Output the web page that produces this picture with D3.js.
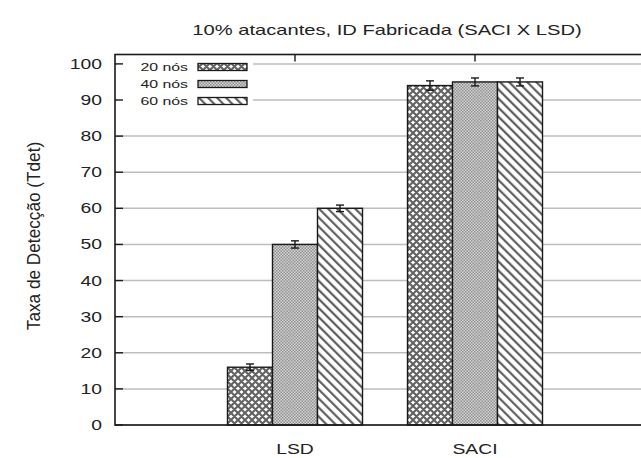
<!DOCTYPE html>
<html><head><meta charset="utf-8">
<script src="https://cdn.jsdelivr.net/npm/d3@7"></script>
<style>
body{margin:0;background:#fff}
svg{display:block}
text{font-family:"Liberation Sans",Arial,Helvetica,sans-serif;fill:#222}
</style>
</head><body>
<svg id="chart" width="641" height="458"></svg>
<script>
// Detection rate per scheme, for three network sizes
const categories = ["LSD", "SACI"];
const seriesNames = ["20 nós", "40 nós", "60 nós"];
const nodes20 = [16, 94];
const nodes40 = [50, 95];
const nodes60 = [60, 95];
const err20 = [0.9, 1.3];
const err40 = [1.0, 1.1];
const err60 = [0.9, 1.1];
const yTicks = [0, 10, 20, 30, 40, 50, 60, 70, 80, 90, 100];
const titleText = "10% atacantes, ID Fabricada (SACI X LSD)";
const yLabelText = "Taxa de Detecção (Tdet)";

const series = [
  {name: seriesNames[0], values: nodes20, errs: err20, fill: "url(#p20)"},
  {name: seriesNames[1], values: nodes40, errs: err40, fill: "url(#p40)"},
  {name: seriesNames[2], values: nodes60, errs: err60, fill: "url(#p60)"}
];

const svg = d3.select("#chart");
const X0 = 115, X1 = 655, Y0 = 425, Y1 = 54.5;
const x = d3.scaleLinear().domain([0, 3]).range([X0, X1]);
const y = d3.scaleLinear().domain([0, 102.6]).range([Y0, Y1]);
const barW = 0.25;
const SX = 1.38; // horizontal glyph stretch

// fill patterns
const defs = svg.append("defs");
const p20 = defs.append("pattern").attr("id", "p20").attr("patternUnits", "userSpaceOnUse")
  .attr("width", 7).attr("height", 7);
p20.append("rect").attr("width", 7).attr("height", 7).attr("fill", "#fff");
p20.append("path").attr("d", "M0,0L7,7M7,0L0,7M-1,6L1,8M6,-1L8,1M6,8L8,6M-1,1L1,-1")
  .attr("stroke", "#626262").attr("stroke-width", 2.1);
const p40 = defs.append("pattern").attr("id", "p40").attr("patternUnits", "userSpaceOnUse")
  .attr("width", 3).attr("height", 3);
p40.append("rect").attr("width", 3).attr("height", 3).attr("fill", "#d6d6d6");
p40.append("rect").attr("width", 1.5).attr("height", 1.5).attr("fill", "#8e8e8e");
p40.append("rect").attr("x", 1.5).attr("y", 1.5).attr("width", 1.5).attr("height", 1.5).attr("fill", "#8e8e8e");
const p60 = defs.append("pattern").attr("id", "p60").attr("patternUnits", "userSpaceOnUse")
  .attr("width", 6.4).attr("height", 6.4).attr("patternTransform", "rotate(-45)");
p60.append("rect").attr("width", 6.4).attr("height", 6.4).attr("fill", "#fff");
p60.append("line").attr("x1", 1.2).attr("x2", 1.2).attr("y1", 0).attr("y2", 6.4)
  .attr("stroke", "#4e4e4e").attr("stroke-width", 2);

function stretchedText(g, tx, ty, str, opts) {
  const sx = opts.sx || SX;
  const t = g.append("text")
    .attr("transform", `translate(${tx},${ty}) scale(${sx},1)` + (opts.rotate ? ` rotate(${opts.rotate})` : ""))
    .attr("text-anchor", opts.anchor || "start")
    .attr("font-size", opts.size)
    .text(str);
  if (opts.dy) t.attr("dy", opts.dy);
  return t;
}

// grid lines
svg.append("g").selectAll("line").data(yTicks).join("line")
  .attr("x1", X0).attr("x2", X1)
  .attr("y1", d => y(d)).attr("y2", d => y(d))
  .attr("stroke", "#bdbdbd").attr("stroke-width", 1.5);

// legend background
const legX = 117, legY = 56;
svg.append("rect").attr("x", legX).attr("y", legY).attr("width", 136).attr("height", 54).attr("fill", "#fff");

// bars
const barsG = svg.append("g");
series.forEach((s, si) => {
  const off = (si - 1) * barW;
  categories.forEach((c, ci) => {
    const cx = ci + 1 + off;
    barsG.append("rect")
      .attr("x", x(cx - barW / 2)).attr("width", x(cx + barW / 2) - x(cx - barW / 2))
      .attr("y", y(s.values[ci])).attr("height", y(0) - y(s.values[ci]))
      .attr("fill", s.fill).attr("stroke", "#1a1a1a").attr("stroke-width", 1.4);
    const lo = y(s.values[ci] - s.errs[ci]), hi = y(s.values[ci] + s.errs[ci]);
    const eg = barsG.append("g").attr("stroke", "#1a1a1a").attr("stroke-width", 1.4);
    eg.append("line").attr("x1", x(cx)).attr("x2", x(cx)).attr("y1", lo).attr("y2", hi);
    eg.append("line").attr("x1", x(cx) - 4).attr("x2", x(cx) + 4).attr("y1", lo).attr("y2", lo);
    eg.append("line").attr("x1", x(cx) - 4).attr("x2", x(cx) + 4).attr("y1", hi).attr("y2", hi);
  });
});

// frame
svg.append("rect").attr("x", X0).attr("y", Y1).attr("width", X1 - X0).attr("height", Y0 - Y1)
  .attr("fill", "none").attr("stroke", "#1a1a1a").attr("stroke-width", 1.6);

// y ticks and labels
const yg = svg.append("g");
yTicks.forEach(t => {
  yg.append("line").attr("x1", X0).attr("x2", X0 + 8).attr("y1", y(t)).attr("y2", y(t))
    .attr("stroke", "#1a1a1a").attr("stroke-width", 1.4);
  stretchedText(yg, 102, y(t), String(t), {anchor: "end", size: 14, dy: "0.36em"});
});

// x ticks (top edge) and labels
const xg = svg.append("g");
categories.forEach((c, i) => {
  xg.append("line").attr("x1", x(i + 1)).attr("x2", x(i + 1)).attr("y1", Y1).attr("y2", Y1 + 7)
    .attr("stroke", "#1a1a1a").attr("stroke-width", 1.4);
  stretchedText(xg, x(i + 1), 454, c, {anchor: "middle", size: 14});
});

// title and axis label
stretchedText(svg, 387, 35, titleText, {anchor: "middle", size: 14.6});
stretchedText(svg, 40, 236, yLabelText, {anchor: "middle", size: 17.2, sx: 1.1, rotate: -90});

// legend
const lg = svg.append("g");
series.forEach((s, i) => {
  const cy = 67 + i * 17;
  stretchedText(lg, 188, cy, s.name, {anchor: "end", size: 11.5, dy: "0.36em"});
  lg.append("rect").attr("x", 198).attr("y", cy - 3.5).attr("width", 49).attr("height", 7)
    .attr("fill", s.fill).attr("stroke", "#1a1a1a").attr("stroke-width", 1.3);
});
</script>
</body></html>
